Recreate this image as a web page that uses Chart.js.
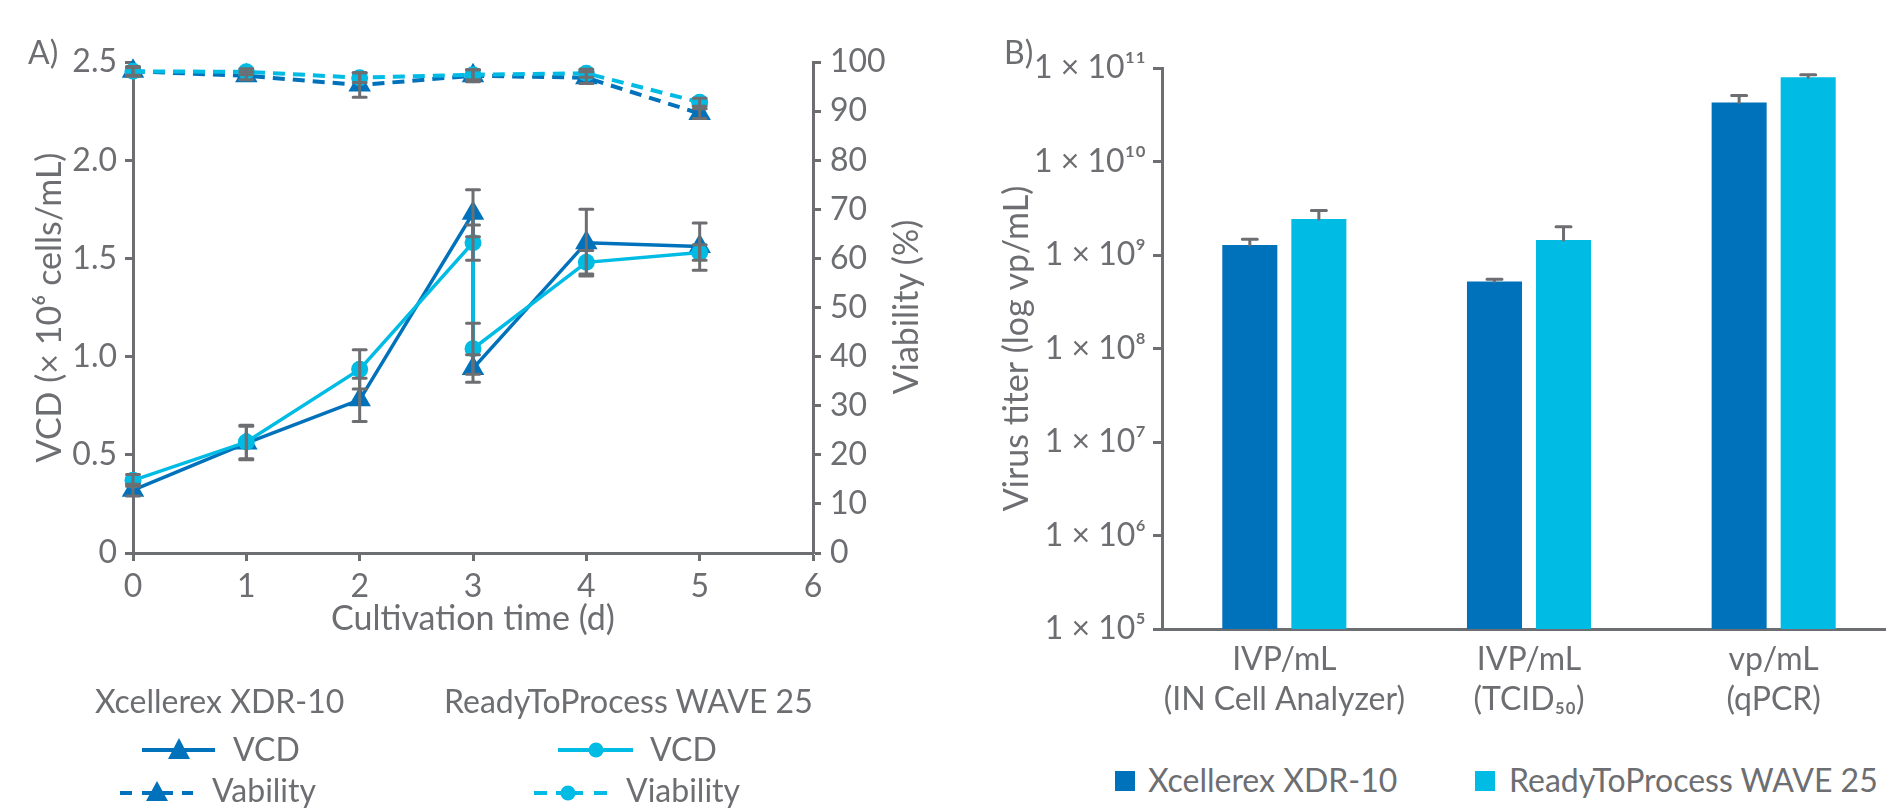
<!DOCTYPE html>
<html><head><meta charset="utf-8">
<script src="https://cdn.jsdelivr.net/npm/chart.js@4/dist/chart.umd.min.js"></script>
<style>
html,body{margin:0;padding:0;width:1886px;height:812px;overflow:hidden;background:#fff;font-family:Lato,sans-serif;color:#6d6e71;}
canvas{position:absolute;top:0;}
#cA{left:0;}
#cB{left:960px;}
.t{position:absolute;font-size:32px;line-height:38px;white-space:nowrap;}
.sw{position:absolute;width:20px;height:20px;}
</style></head>
<body>
<canvas id="cA" width="960" height="640"></canvas>
<canvas id="cB" width="940" height="740"></canvas>
<div class="t" style="left:28px;top:33px">A)</div>
<div class="t" style="left:1004px;top:33px">B)</div>
<div class="t" id="viabTitle" style="left:905px;top:307px;font-size:34px;transform:translate(-50%,-50%) rotate(-90deg);">Viability (%)</div>

<svg style="position:absolute;left:0;top:0" width="960" height="812">
  <line x1="142" y1="750" x2="215" y2="750" stroke="#0072bb" stroke-width="4"/>
  <polygon points="179,738 168,759 190,759" fill="#0072bb"/>
  <line x1="120" y1="793" x2="132" y2="793" stroke="#0072bb" stroke-width="4"/>
  <line x1="142" y1="793" x2="173" y2="793" stroke="#0072bb" stroke-width="4"/>
  <line x1="182" y1="793" x2="193" y2="793" stroke="#0072bb" stroke-width="4"/>
  <polygon points="157,781 146,801 168,801" fill="#0072bb"/>
  <line x1="558" y1="750" x2="633" y2="750" stroke="#00bce4" stroke-width="4"/>
  <circle cx="596" cy="750" r="7.5" fill="#00bce4"/>
  <line x1="534" y1="793" x2="547" y2="793" stroke="#00bce4" stroke-width="4"/>
  <line x1="556" y1="793" x2="583" y2="793" stroke="#00bce4" stroke-width="4"/>
  <line x1="594" y1="793" x2="607" y2="793" stroke="#00bce4" stroke-width="4"/>
  <circle cx="568" cy="793" r="7.5" fill="#00bce4"/>
</svg>
<div class="t" style="left:95px;top:682px">Xcellerex XDR-10</div>
<div class="t" style="left:233px;top:730px">VCD</div>
<div class="t" style="left:212px;top:771px">Vability</div>
<div class="t" style="left:444px;top:682px">ReadyToProcess WAVE 25</div>
<div class="t" style="left:650px;top:730px">VCD</div>
<div class="t" style="left:626px;top:771px">Viability</div>

<div class="sw" style="left:1115px;top:771px;background:#0072bb"></div>
<div class="t" style="left:1148px;top:761px">Xcellerex XDR-10</div>
<div class="sw" style="left:1475px;top:771px;background:#00bce4"></div>
<div class="t" style="left:1509px;top:761px">ReadyToProcess WAVE 25</div>

<script>
const GRAY = '#6d6e71';
const DARK = '#0072bb';
const CYAN = '#00bce4';
const FAMILY = 'Lato';
const FS = 32;
const TFS = 34;

// ---- Panel A data ----
const vcdDays = [0, 1, 2, 3, 3, 4, 5];
const xdrVCD = [0.32, 0.56, 0.78, 1.73, 0.94, 1.58, 1.56];
const xdrVCDErr = [0.03, 0.085, 0.11, 0.12, 0.07, 0.17, 0.12];
const waveVCD = [0.37, 0.565, 0.935, 1.58, 1.04, 1.48, 1.53];
const waveVCDErr = [0.03, 0.085, 0.10, 0.09, 0.13, 0.06, 0.04];
const viabDays = [0, 1, 2, 3, 4, 5];
const xdrViab = [98.1, 97.2, 95.3, 97.2, 96.8, 89.5];
const xdrViabErr = [1.0, 0.8, 2.5, 1.2, 1.2, 1.0];
const waveViab = [98.1, 98.0, 96.8, 97.4, 97.7, 91.8];
const waveViabErr = [0.8, 0.6, 1.0, 1.0, 0.8, 0.8];
const dayTicks = [0, 1, 2, 3, 4, 5, 6];
const dayTickLabels = ['0', '1', '2', '3', '4', '5', '6'];
const vcdTicks = [0, 0.5, 1, 1.5, 2, 2.5];
const vcdTickLabels = ['0', '0.5', '1.0', '1.5', '2.0', '2.5'];
const viabTicks = [0, 10, 20, 30, 40, 50, 60, 70, 80, 90, 100];
const viabTickLabels = ['0', '10', '20', '30', '40', '50', '60', '70', '80', '90', '100'];

// ---- Panel B data ----
const assayCategories = [['IVP/mL', '(IN Cell Analyzer)'], ['IVP/mL', '(TCID₅₀)'], ['vp/mL', '(qPCR)']];
const xdrTiter = [1.28e9, 5.2e8, 4.28e10];
const xdrTiterErr = [0.19e9, 0.32e8, 0.8e10];
const waveTiter = [2.43e9, 1.45e9, 7.94e10];
const waveTiterErr = [0.56e9, 0.56e9, 0.53e10];
const titerTicks = [1e5, 1e6, 1e7, 1e8, 1e9, 1e10, 1e11];
const titerTickLabels = ['1 × 10⁵', '1 × 10⁶', '1 × 10⁷', '1 × 10⁸', '1 × 10⁹', '1 × 10¹⁰', '1 × 10¹¹'];

const pts = (xs, ys) => xs.map((x, i) => ({x: x, y: ys[i]}));
const font = {family: FAMILY, size: FS};
const tfont = {family: FAMILY, size: TFS};

const errorBars = {
  id: 'errorBars',
  afterDatasetsDraw(chart) {
    const ctx = chart.ctx;
    ctx.save();
    ctx.strokeStyle = GRAY;
    ctx.lineWidth = 3;
    ctx.lineCap = 'round';
    chart.data.datasets.forEach((ds, i) => {
      if (!ds.errors) return;
      const meta = chart.getDatasetMeta(i);
      const ys = chart.scales[meta.yAxisID];
      meta.data.forEach((el, j) => {
        const raw = ds.data[j];
        const v = (typeof raw === 'object') ? raw.y : raw;
        const e = ds.errors[j];
        const x = el.x;
        const hi = ys.getPixelForValue(v + e);
        const lo = ds.errorUpOnly ? el.y : ys.getPixelForValue(v - e);
        const cw = ds.capWidth || 13;
        ctx.beginPath();
        ctx.moveTo(x, lo); ctx.lineTo(x, hi);
        ctx.moveTo(x - cw / 2, hi); ctx.lineTo(x + cw / 2, hi);
        if (!ds.errorUpOnly) { ctx.moveTo(x - cw / 2, lo); ctx.lineTo(x + cw / 2, lo); }
        ctx.stroke();
      });
    });
    ctx.restore();
  }
};

new Chart(document.getElementById('cA'), {
  type: 'line',
  data: {
    datasets: [
      {label: 'ReadyToProcess WAVE 25 Viability', data: pts(viabDays, waveViab), errors: waveViabErr, yAxisID: 'y2',
       borderColor: CYAN, backgroundColor: CYAN, borderWidth: 4, borderDash: [12, 8], pointStyle: 'circle', pointRadius: 8.5,
       pointBorderWidth: 0, clip: false, order: 0},
      {label: 'ReadyToProcess WAVE 25 VCD', data: pts(vcdDays, waveVCD), errors: waveVCDErr, yAxisID: 'y',
       borderColor: CYAN, backgroundColor: CYAN, borderWidth: 3.5, pointStyle: 'circle', pointRadius: 8.5,
       pointBorderWidth: 0, clip: false, order: 1},
      {label: 'Xcellerex XDR-10 Vability', data: pts(viabDays, xdrViab), errors: xdrViabErr, yAxisID: 'y2',
       borderColor: DARK, backgroundColor: DARK, borderWidth: 4, borderDash: [12, 8], pointStyle: 'triangle', pointRadius: 13,
       pointBorderWidth: 0, clip: false, order: 2},
      {label: 'Xcellerex XDR-10 VCD', data: pts(vcdDays, xdrVCD), errors: xdrVCDErr, yAxisID: 'y',
       borderColor: DARK, backgroundColor: DARK, borderWidth: 3.5, pointStyle: 'triangle', pointRadius: 13,
       pointBorderWidth: 0, clip: false, order: 3}
    ]
  },
  options: {
    responsive: false, animation: false,
    layout: {padding: {top: 62, right: 0, bottom: 0, left: 0}},
    plugins: {legend: {display: false}, tooltip: {enabled: false}},
    scales: {
      x: {
        type: 'linear', position: 'bottom', min: 0, max: 6,
        afterBuildTicks: s => { s.ticks = dayTicks.map(v => ({value: v})); },
        ticks: {callback: (v, i) => dayTickLabels[i], color: GRAY, font: font, padding: 6, maxRotation: 0, autoSkip: false},
        grid: {drawOnChartArea: false, color: GRAY, tickWidth: 3, tickLength: 8},
        border: {color: GRAY, width: 3},
        title: {display: true, text: 'Cultivation time (d)', color: GRAY, font: tfont, padding: {top: 0, bottom: 1}},
        afterFit: s => { s.height = 87; }
      },
      y: {
        type: 'linear', position: 'left', min: 0, max: 2.5,
        afterBuildTicks: s => { s.ticks = vcdTicks.map(v => ({value: v})); },
        ticks: {callback: (v, i) => vcdTickLabels[i], color: GRAY, font: font, padding: 8, autoSkip: false},
        grid: {drawOnChartArea: false, color: GRAY, tickWidth: 3, tickLength: 8},
        border: {color: GRAY, width: 3},
        title: {display: true, text: 'VCD (× 10⁶ cells/mL)', color: GRAY, font: tfont, padding: {top: 30, bottom: 0}},
        afterFit: s => { s.width = 133; }
      },
      y2: {
        type: 'linear', position: 'right', min: 0, max: 100,
        afterBuildTicks: s => { s.ticks = viabTicks.map(v => ({value: v})); },
        ticks: {callback: (v, i) => viabTickLabels[i], color: GRAY, font: font, padding: 9, autoSkip: false},
        grid: {drawOnChartArea: false, color: GRAY, tickWidth: 3, tickLength: 8},
        border: {color: GRAY, width: 3},
        afterFit: s => { s.width = 147; }
      }
    }
  },
  plugins: [errorBars]
});

new Chart(document.getElementById('cB'), {
  type: 'bar',
  data: {
    labels: assayCategories,
    datasets: [
      {label: 'Xcellerex XDR-10', data: xdrTiter, errors: xdrTiterErr, errorUpOnly: true, capWidth: 15,
       backgroundColor: DARK, borderWidth: 0, categoryPercentage: 0.5644, barPercentage: 0.797},
      {label: 'ReadyToProcess WAVE 25', data: waveTiter, errors: waveTiterErr, errorUpOnly: true, capWidth: 15,
       backgroundColor: CYAN, borderWidth: 0, categoryPercentage: 0.5644, barPercentage: 0.797}
    ]
  },
  options: {
    responsive: false, animation: false,
    layout: {padding: {top: 68, right: 4, bottom: 0, left: 0}},
    plugins: {legend: {display: false}, tooltip: {enabled: false}},
    scales: {
      x: {
        type: 'category',
        ticks: {color: GRAY, font: {family: FAMILY, size: FS, lineHeight: 1.25}, padding: 11, maxRotation: 0, autoSkip: false},
        grid: {drawOnChartArea: false, drawTicks: false},
        border: {color: GRAY, width: 3},
        afterFit: s => { s.height = 111; }
      },
      y: {
        type: 'logarithmic', min: 1e5, max: 1e11,
        afterBuildTicks: s => { s.ticks = titerTicks.map(v => ({value: v})); },
        ticks: {callback: (v, i) => titerTickLabels[i], color: GRAY, font: font, padding: 7, autoSkip: false},
        grid: {drawOnChartArea: false, color: GRAY, tickWidth: 3, tickLength: 9},
        border: {color: GRAY, width: 3},
        title: {display: true, text: 'Virus titer (log vp/mL)', color: GRAY, font: tfont, padding: {top: 37, bottom: 0}},
        afterFit: s => { s.width = 202; }
      }
    }
  },
  plugins: [errorBars]
});
</script>
</body></html>
